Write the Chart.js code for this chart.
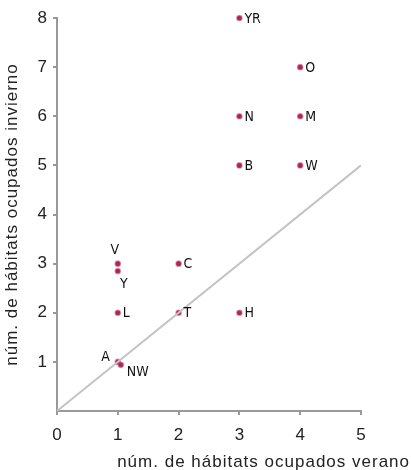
<!DOCTYPE html>
<html>
<head>
<meta charset="utf-8">
<script src="https://cdn.jsdelivr.net/npm/chart.js@4.4.0/dist/chart.umd.min.js"></script>
<style>
  html, body { margin: 0; padding: 0; background: #fff; }
</style>
</head>
<body>
<canvas id="scatter" width="411" height="470"></canvas>
<script>
// habitat counts: summer (x) vs winter (y)
var siteLabels = ["YR", "O", "N", "M", "B", "W", "V", "Y", "C", "L", "T", "H", "A", "NW"]
var summerVals = [3, 4, 3, 4, 3, 4, 1, 1, 2, 1, 2, 3, 1, 1.05]
var winterVals = [8, 7, 6, 6, 5, 5, 3, 2.85, 3, 2, 2, 2, 1, 0.94]
// where the label sits relative to its point
var labelSide = ["r", "r", "r", "r", "r", "r", "up", "down", "r", "r", "r", "r", "left", "downright"]
var xTicks = [0, 1, 2, 3, 4, 5]
var yTicks = [1, 2, 3, 4, 5, 6, 7, 8]
var diagX = [0, 5]
var diagY = [0, 5]

var pts = []
for (var i = 0; i < siteLabels.length; i++){
  pts.push({x: summerVals[i], y: winterVals[i]})
}
var diag = []
for (var j = 0; j < diagX.length; j++){
  diag.push({x: diagX[j], y: diagY[j]})
}

var axisFont = "'Liberation Sans', Arial, Helvetica, sans-serif"
var labelFont = "'Liberation Sans Narrow', 'DejaVu Sans Condensed', 'Liberation Sans', sans-serif"

var extraText = {
  id: "extraText",
  afterDatasetsDraw: function(chart){
    var ctx = chart.ctx
    var meta = chart.getDatasetMeta(1)
    ctx.save()
    ctx.fillStyle = "#111"
    ctx.font = "14px " + labelFont
    ctx.textBaseline = "middle"
    for (var k = 0; k < meta.data.length; k++){
      var p = meta.data[k]
      var side = labelSide[k]
      if (side == "r"){
        ctx.textAlign = "left"
        ctx.fillText(siteLabels[k], p.x + 5, p.y + 1)
      } else if (side == "up"){
        ctx.textAlign = "center"
        ctx.fillText(siteLabels[k], p.x - 3, p.y - 13)
      } else if (side == "down"){
        ctx.textAlign = "center"
        ctx.fillText(siteLabels[k], p.x + 6, p.y + 13)
      } else if (side == "left"){
        ctx.textAlign = "right"
        ctx.fillText(siteLabels[k], p.x - 8, p.y - 5)
      } else {
        ctx.textAlign = "left"
        ctx.fillText(siteLabels[k], p.x + 6, p.y + 8)
      }
    }
    ctx.restore()
  },
  afterDraw: function(chart){
    var ctx = chart.ctx
    var area = chart.chartArea
    ctx.save()
    ctx.fillStyle = "#222"
    ctx.font = "17px " + axisFont
    ctx.letterSpacing = "1px"
    ctx.textBaseline = "middle"
    ctx.textAlign = "right"
    ctx.fillText("núm. de hábitats ocupados verano", 410, 462)
    ctx.translate(12, (area.top + area.bottom) / 2)
    ctx.rotate(-Math.PI / 2)
    ctx.textAlign = "center"
    ctx.fillText("núm. de hábitats ocupados invierno", 0, 0)
    ctx.restore()
  }
}

var myChart = new Chart(document.getElementById("scatter"), {
  type: "scatter",
  data: {
    datasets: [
      {
        data: diag,
        showLine: true,
        borderColor: "#c4c4c4",
        borderWidth: 2,
        pointRadius: 0,
        pointHoverRadius: 0
      },
      {
        data: pts,
        clip: false,
        pointRadius: 2.6,
        pointBackgroundColor: "rgba(165,25,75,0.95)",
        pointBorderColor: "rgba(200,80,125,0.5)",
        pointBorderWidth: 1.5
      }
    ]
  },
  options: {
    responsive: false,
    animation: false,
    devicePixelRatio: 1,
    layout: { padding: { top: 18, right: 50, left: 0, bottom: 0 } },
    plugins: { legend: { display: false }, tooltip: { enabled: false } },
    scales: {
      x: {
        type: "linear",
        min: 0,
        max: 5,
        afterBuildTicks: function(axis){
          axis.ticks = xTicks.map(function(v){ return {value: v} })
        },
        afterFit: function(axis){ axis.height = 59 },
        grid: { drawOnChartArea: false, tickLength: 4, color: "#999", lineWidth: 2 },
        border: { color: "#999", width: 2 },
        ticks: { color: "#222", padding: 10, font: { size: 17, family: axisFont } }
      },
      y: {
        type: "linear",
        min: 0,
        max: 8,
        afterBuildTicks: function(axis){
          axis.ticks = yTicks.map(function(v){ return {value: v} })
        },
        afterFit: function(axis){ axis.width = 57 },
        grid: { drawOnChartArea: false, tickLength: 4, color: "#999", lineWidth: 2 },
        border: { color: "#999", width: 2 },
        ticks: { color: "#222", padding: 6, font: { size: 17, family: axisFont } }
      }
    }
  },
  plugins: [extraText]
});
</script>
</body>
</html>
